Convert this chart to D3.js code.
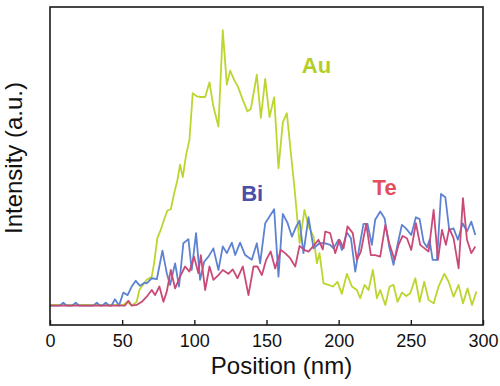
<!DOCTYPE html>
<html>
<head>
<meta charset="utf-8">
<script src="https://cdn.jsdelivr.net/npm/d3@7"></script>
<style>
  html, body { margin: 0; padding: 0; background: #fff; }
  svg { display: block; font-family: "Liberation Sans", Arial, sans-serif; }
</style>
</head>
<body>
<svg id="chart" width="500" height="386"></svg>
<script>
// ---- data ----
const xTicks = [0, 50, 100, 150, 200, 250, 300];

const auPos = [0, 50.8, 53.6, 56.6, 60.1, 61.9, 67.0, 70.5, 72.1, 74.4, 76.7, 79.0, 81.3, 83.7, 86.0, 88.3, 90.1, 92.0, 94.3, 96.6, 98.9, 101.7, 104.5, 107.5, 110.5, 113.2, 116.7, 119.7, 122.5, 124.8, 127.6, 130.3, 133.6, 136.8, 139.1, 143.3, 146.1, 149.1, 152.1, 155.3, 158.3, 161.3, 164.1, 166.9, 169.4, 172.9, 176.3, 179.1, 182.6, 184.9, 186.7, 189.5, 193.0, 196.0, 199.2, 202.2, 205.7, 209.2, 212.6, 214.9, 217.9, 220.7, 223.7, 226.5, 228.8, 232.3, 235.3, 238.0, 240.8, 243.8, 246.8, 249.6, 253.1, 256.1, 259.3, 262.3, 265.8, 269.2, 273.2, 276.2, 279.6, 283.1, 286.1, 289.3, 292.4, 295.4];
const auVal = [6.3, 6.3, 7.3, 6.1, 7.3, 11.0, 14.2, 15.2, 19.4, 27.3, 29.9, 33.1, 36.0, 36.4, 41.4, 45.6, 50.4, 46.5, 53.5, 58.2, 72.9, 71.9, 71.7, 71.7, 76.3, 68.7, 62.4, 92.7, 75.6, 80.0, 77.1, 74.8, 70.8, 67.2, 67.9, 78.7, 65.1, 77.4, 65.4, 71.6, 49.3, 63.7, 66.6, 54.0, 43.0, 25.7, 36.2, 31.0, 27.8, 19.4, 22.6, 13.1, 12.6, 12.1, 13.6, 9.8, 16.1, 12.1, 11.0, 8.4, 12.6, 11.0, 17.3, 8.4, 11.0, 6.3, 12.1, 12.6, 7.3, 10.2, 9.1, 10.0, 14.7, 7.3, 13.6, 7.9, 6.8, 12.1, 16.1, 13.6, 8.9, 12.6, 6.8, 11.5, 6.3, 10.5];

const biPos = [0, 6.8, 9.2, 11.6, 15.4, 17.8, 20.2, 30.0, 32.4, 34.8, 36.2, 38.6, 41.0, 42.6, 45.0, 47.8, 50.8, 53.8, 56.5, 59.4, 62.4, 65.4, 67.0, 70.5, 74.0, 77.9, 80.9, 83.2, 86.7, 89.4, 92.4, 95.9, 98.2, 101.2, 104.0, 106.8, 109.8, 113.2, 116.7, 119.7, 122.5, 126.0, 128.3, 131.7, 135.2, 139.8, 143.3, 145.6, 149.1, 152.1, 155.3, 158.3, 161.3, 164.5, 167.6, 170.6, 172.9, 175.6, 179.1, 182.6, 186.7, 190.7, 194.1, 196.4, 199.9, 202.2, 205.7, 208.5, 211.5, 214.5, 217.2, 220.0, 223.0, 225.3, 228.8, 231.8, 235.0, 238.0, 241.0, 243.8, 246.6, 250.3, 253.5, 256.1, 258.8, 261.2, 263.0, 265.1, 268.1, 270.9, 273.9, 276.6, 279.6, 282.6, 285.9, 288.9, 291.9, 294.7];
const biVal = [6.1, 6.1, 7.0, 6.1, 6.1, 7.0, 6.1, 6.1, 7.0, 6.1, 6.1, 7.0, 6.1, 6.1, 8.1, 6.1, 10.2, 9.4, 12.0, 13.9, 12.3, 13.3, 13.1, 14.7, 14.4, 23.4, 16.3, 12.6, 19.4, 12.1, 25.7, 27.0, 17.3, 28.9, 14.2, 19.9, 21.5, 24.1, 17.3, 24.7, 22.6, 25.9, 22.0, 25.9, 22.0, 20.5, 25.7, 19.4, 32.0, 34.1, 36.4, 15.2, 34.9, 32.2, 27.8, 31.0, 32.8, 22.6, 33.9, 24.1, 25.7, 25.7, 25.2, 24.1, 26.8, 23.6, 29.1, 27.3, 16.8, 24.9, 31.8, 31.8, 25.2, 33.1, 35.7, 33.6, 24.7, 18.9, 25.7, 31.5, 30.4, 28.3, 33.9, 33.3, 26.2, 24.4, 26.8, 20.5, 20.5, 41.2, 40.2, 29.9, 30.4, 26.8, 32.0, 29.4, 32.5, 28.3];

const tePos = [0, 52.0, 54.3, 56.5, 60.0, 63.6, 67.0, 70.5, 72.8, 75.8, 78.6, 80.9, 83.7, 86.7, 90.1, 93.6, 96.6, 99.8, 102.8, 104.5, 107.5, 110.5, 113.2, 116.7, 119.7, 123.6, 126.6, 129.9, 133.6, 137.5, 141.0, 143.7, 146.8, 149.8, 152.9, 156.0, 159.9, 162.9, 166.4, 169.9, 172.9, 176.1, 179.1, 182.6, 186.0, 189.0, 190.7, 194.1, 197.6, 200.6, 203.4, 206.1, 209.8, 212.6, 215.4, 219.1, 222.3, 225.3, 228.8, 232.3, 235.0, 238.7, 241.5, 244.3, 247.3, 250.3, 253.5, 256.5, 259.5, 262.3, 265.8, 268.8, 271.6, 274.3, 276.6, 279.6, 283.1, 286.1, 288.9, 291.9, 294.7];
const teVal = [6.1, 6.1, 7.6, 6.1, 6.3, 7.3, 8.9, 11.0, 9.4, 12.1, 7.3, 10.5, 17.3, 11.5, 15.2, 18.4, 16.8, 21.5, 16.3, 22.0, 11.0, 18.4, 14.2, 15.7, 17.3, 16.1, 17.5, 14.7, 18.4, 9.4, 18.4, 18.4, 15.7, 20.5, 23.1, 17.8, 23.6, 22.6, 21.0, 18.4, 24.9, 23.6, 23.1, 24.9, 26.8, 23.8, 29.4, 28.9, 22.6, 26.8, 24.1, 31.0, 28.9, 20.5, 23.1, 31.8, 22.0, 22.0, 21.5, 31.5, 25.7, 20.5, 25.2, 28.0, 27.3, 23.6, 32.0, 25.2, 24.1, 23.1, 36.2, 20.5, 29.9, 25.2, 30.4, 27.3, 17.8, 39.9, 26.8, 22.6, 24.7];

const series = [
  { name: "Au", pos: auPos, val: auVal, color: "#bdd52e", labelX: 174.5, labelY: 79.2, labelColor: "#b6ce24" },
  { name: "Bi", pos: biPos, val: biVal, color: "#5d82d2", labelX: 132.5, labelY: 39.0, labelColor: "#4a4fa8" },
  { name: "Te", pos: tePos, val: teVal, color: "#c94a78", labelX: 223.5, labelY: 40.9, labelColor: "#e2505c" }
];

// ---- layout ----
const svg = d3.select("#chart");
const mLeft = 50, mRight = 483, mTop = 7, mBottom = 325;

const x = d3.scaleLinear().domain([0, 300]).range([mLeft, mRight]);
const y = d3.scaleLinear().domain([0, 100]).range([mBottom, mTop]);

// lines
const line = d3.line().x((d) => x(d[0])).y((d) => y(d[1]));
series.forEach((s) => {
  const pts = s.pos.map((p, i) => [p, s.val[i]]);
  svg.append("path")
    .datum(pts)
    .attr("fill", "none")
    .attr("stroke", s.color)
    .attr("stroke-width", 1.8)
    .attr("stroke-linejoin", "round")
    .attr("d", line);
});

// series labels (placed in data space)
series.forEach((s) => {
  svg.append("text")
    .attr("x", x(s.labelX))
    .attr("y", y(s.labelY))
    .attr("fill", s.labelColor)
    .attr("font-size", 22)
    .attr("font-weight", "bold")
    .text(s.name);
});

// frame
svg.append("rect")
  .attr("x", mLeft).attr("y", mTop)
  .attr("width", mRight - mLeft).attr("height", mBottom - mTop)
  .attr("fill", "none").attr("stroke", "#1a1a1a").attr("stroke-width", 1.6);

// bottom axis: inward ticks
const xAxis = d3.axisBottom(x).tickValues(xTicks).tickSizeInner(-5).tickSizeOuter(0).tickPadding(9);
const gx = svg.append("g").attr("transform", `translate(0,${mBottom})`).call(xAxis);
gx.select(".domain").remove();
gx.selectAll(".tick line").attr("stroke", "#1a1a1a").attr("stroke-width", 1.4);
gx.selectAll(".tick text")
  .attr("font-size", 18)
  .attr("fill", "#111")
  .attr("font-family", "'Liberation Sans', Arial, sans-serif");

// axis titles
svg.append("text")
  .attr("x", 281.5)
  .attr("y", 374)
  .attr("text-anchor", "middle")
  .attr("font-size", 24)
  .attr("fill", "#111")
  .text("Position (nm)");

svg.append("text")
  .attr("transform", "translate(22,158) rotate(-90)")
  .attr("text-anchor", "middle")
  .attr("font-size", 24)
  .attr("fill", "#111")
  .text("Intensity (a.u.)");
</script>
</body>
</html>
